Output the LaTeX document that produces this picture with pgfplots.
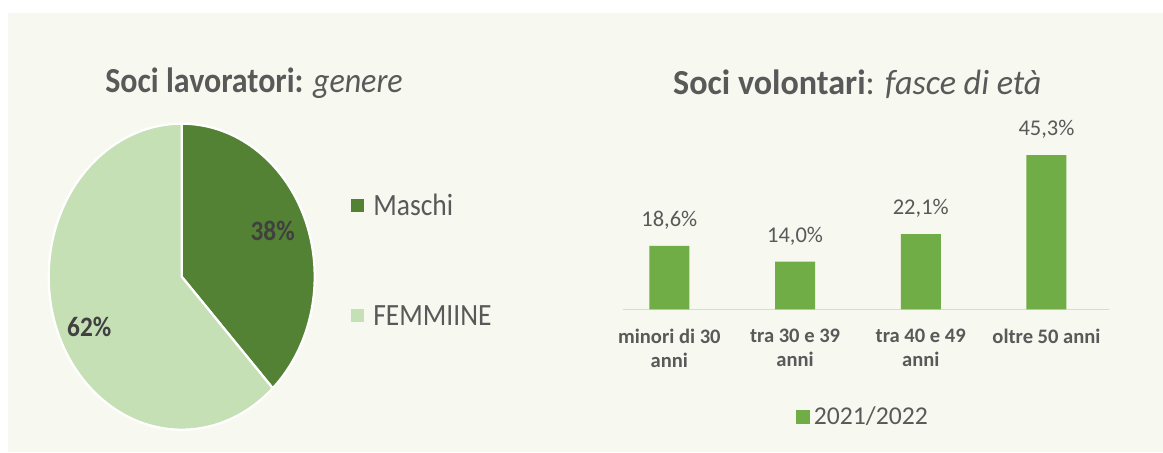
\documentclass[border=0pt]{standalone}
\usepackage{fontspec}
\setmainfont{Carlito}
\usepackage{pgfplots}
\usepackage{pgfplotstable}
\pgfplotsset{compat=1.18}

\definecolor{bgc}{HTML}{F7F8F0}
\definecolor{maschi}{HTML}{548235}
\definecolor{femmine}{HTML}{C5E0B4}
\definecolor{barg}{HTML}{70AD47}
\definecolor{txt}{HTML}{595959}
\definecolor{dark}{HTML}{404040}

% soci lavoratori, genere (%)
\pgfplotstableread{
label value
Maschi 38
FEMMIINE 62
}\piedata

% soci volontari, fasce di eta (%)
\pgfplotstableread{
x value
0 18.6
1 14.0
2 22.1
3 45.3
}\bardata

\begin{document}
\pgfplotstablegetelem{0}{value}\of\piedata \let\vM\pgfplotsretval
\pgfplotstablegetelem{1}{value}\of\piedata \let\vF\pgfplotsretval
\begin{tikzpicture}[x=0.2mm,y=0.2mm]
\fill[white] (0,0) rectangle (1163,452);
\fill[bgc] (8,0) rectangle (1163,439);

% titles
\node[anchor=base,text=txt,font=\fontsize{20}{24}\selectfont,inner sep=0,xscale=0.91,transform shape] at (254,359.3)
  {\textbf{Soci lavoratori:} \textit{genere}};
\node[anchor=base,text=txt,font=\fontsize{20}{24}\selectfont,inner sep=0,xscale=0.97,transform shape] at (857.3,357)
  {\textbf{Soci volontari}: \textit{fasce di età}};

% pie
\begin{axis}[at={(36.34mm,35.06mm)}, anchor=center, scale only axis,
  width=53.2mm, height=61.2mm, xmin=-1, xmax=1, ymin=-1, ymax=1,
  hide axis, clip=false]
\filldraw[fill=maschi,draw=white,line width=0.45mm] (axis cs:0,0) -- (axis cs:0,1)
  arc[start angle=90,end angle={90-3.6*\vM},x radius=26.6mm,y radius=30.6mm] -- cycle;
\filldraw[fill=femmine,draw=white,line width=0.45mm] (axis cs:0,0) -- (axis cs:0,1)
  arc[start angle=90,end angle={90+3.6*\vF},x radius=26.6mm,y radius=30.6mm] -- cycle;
\node[font=\bfseries\fontsize{16}{19}\selectfont,text=dark,xscale=0.9,transform shape] at (axis cs:0.684,0.30) {\vM\%};
\node[font=\bfseries\fontsize{16}{19}\selectfont,text=dark,xscale=0.9,transform shape] at (axis cs:-0.695,-0.327) {\vF\%};
\end{axis}

% pie legend
\fill[maschi] (350.5,239.8) rectangle (363.5,252.8);
\node[anchor=base west,text=txt,font=\fontsize{17.6}{21}\selectfont,inner sep=0,xscale=0.89,transform shape] at (373,236) {Maschi};
\fill[femmine] (350.5,129.8) rectangle (363.5,142.8);
\node[anchor=base west,text=txt,font=\fontsize{17.6}{21}\selectfont,inner sep=0,xscale=0.89,transform shape] at (373,127) {FEMMIINE};

% bars
\begin{axis}[at={(124.54mm,28.54mm)}, anchor=south west, scale only axis,
  width=97.32mm, height=34.06mm,
  ybar, bar width=8mm,
  xmin=-0.371, xmax=3.5, ymin=0, ymax=50,
  axis x line*=bottom, axis y line=none,
  x axis line style={draw=black!15, line width=0.3mm, -},
  xtick=data, major tick length=0,
  xticklabels={{minori di 30\\anni},{tra 30 e 39\\anni},{tra 40 e 49\\anni},{oltre 50 anni}},
  xticklabel style={align=center, font=\bfseries\fontsize{11.7}{13.6}\selectfont, text=txt, yshift=-2.8mm},
  nodes near coords={\pgfmathprintnumber[fixed,fixed zerofill,precision=1,use comma,assume math mode=true]{\pgfplotspointmeta}\%},
  every node near coord/.append style={font=\fontsize{12.8}{15}\selectfont, text=txt, yshift=2mm},
  legend image code/.code={\fill[barg] (-0.9mm,-1.45mm) rectangle (2.0mm,1.45mm);},
  legend style={at={(0.495,-0.632)}, anchor=center, draw=none, fill=none,
    font=\fontsize{14.6}{17}\selectfont, text=txt},
  clip=false]
\addplot[fill=barg, draw=none] table[x=x,y=value]{\bardata};
\legend{2021/2022}
\end{axis}

\pgfresetboundingbox
\path (0,0) rectangle (1163,452);
\end{tikzpicture}
\end{document}
